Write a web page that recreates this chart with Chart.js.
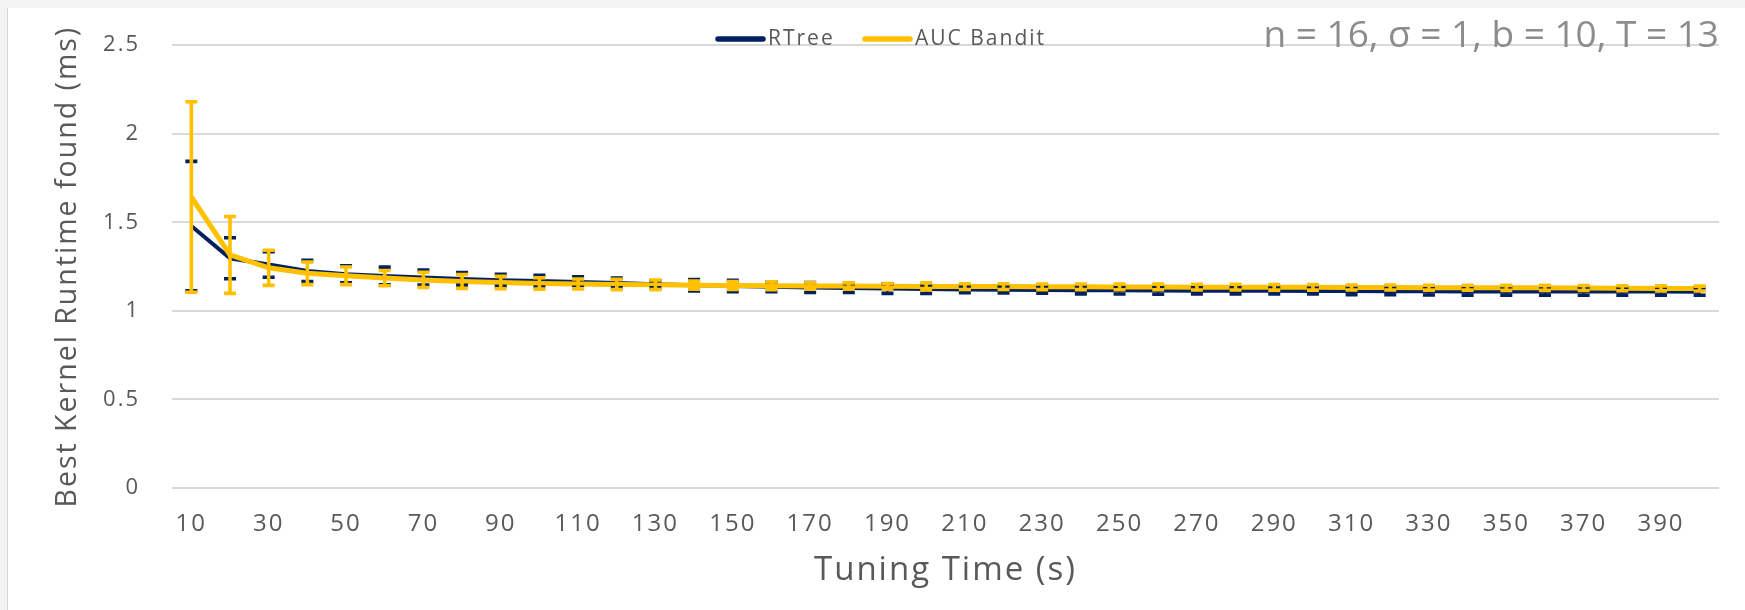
<!DOCTYPE html>
<html>
<head>
<meta charset="utf-8">
<script src="https://cdn.jsdelivr.net/npm/chart.js@4.4.1/dist/chart.umd.min.js"></script>
<style>
html,body{margin:0;padding:0;background:#f3f3f3;overflow:hidden;}
canvas{position:absolute;left:0;top:0;}
</style>
</head>
<body>
<canvas id="c" width="1745" height="610"></canvas>
<script>
// ---- data ----
const categories = ['10','20','30','40','50','60','70','80','90','100',
  '110','120','130','140','150','160','170','180','190','200',
  '210','220','230','240','250','260','270','280','290','300',
  '310','320','330','340','350','360','370','380','390','400'];
const seriesNames = ['RTree', 'AUC Bandit'];
const rtreeMean = [1.479,1.297,1.262,1.225,1.207,1.197,1.188,1.180,1.173,1.168,
  1.163,1.158,1.150,1.145,1.140,1.136,1.132,1.129,1.126,1.123,
  1.121,1.119,1.118,1.117,1.116,1.115,1.114,1.114,1.113,1.112,
  1.112,1.111,1.111,1.110,1.110,1.110,1.109,1.109,1.109,1.108];
const rtreeErr = [0.365,0.116,0.072,0.060,0.048,0.050,0.042,0.036,0.034,0.033,
  0.030,0.028,0.020,0.032,0.032,0.028,0.028,0.025,0.027,0.024,
  0.019,0.018,0.018,0.021,0.021,0.021,0.018,0.018,0.018,0.017,
  0.020,0.020,0.021,0.021,0.021,0.021,0.021,0.020,0.020,0.020];
const aucMean = [1.643,1.316,1.243,1.212,1.198,1.185,1.175,1.166,1.160,1.155,
  1.152,1.149,1.147,1.145,1.143,1.142,1.141,1.140,1.139,1.138,
  1.137,1.137,1.136,1.136,1.135,1.135,1.134,1.134,1.133,1.133,
  1.132,1.132,1.131,1.131,1.130,1.130,1.129,1.128,1.127,1.126];
const aucErr = [0.538,0.217,0.099,0.064,0.050,0.043,0.043,0.039,0.035,0.032,
  0.028,0.029,0.027,0.023,0.022,0.022,0.018,0.018,0.016,0.020,
  0.016,0.016,0.016,0.016,0.016,0.016,0.016,0.016,0.016,0.016,
  0.014,0.014,0.014,0.014,0.014,0.014,0.014,0.014,0.014,0.014];
const yTicks = [0, 0.5, 1, 1.5, 2, 2.5];
const yTickLabels = ['0', '0.5', '1', '1.5', '2', '2.5'];
const chartTitle = 'n = 16, \u03C3 = 1, b = 10, T = 13';
const xTitle = 'Tuning Time (s)';
const yTitle = 'Best Kernel Runtime found (ms)';

// ---- styling ----
const FONT = "'Open Sans', sans-serif";
const TEXT = '#595959';
const NAVY = '#002060';
const GOLD = '#FFC000';
const SPACING = '2px';
const legendStarts = [715, 862];
const errStyles = [
  {err: rtreeErr, color: NAVY, stem: 2, cap: 12, capW: 3.6},
  {err: aucErr, color: GOLD, stem: 3.6, cap: 12, capW: 3.6}
];

const background = {
  id: 'background',
  beforeDraw(chart) {
    const {ctx, width, height} = chart;
    ctx.save();
    ctx.fillStyle = '#f3f3f3';
    ctx.fillRect(0, 0, width, height);
    ctx.fillStyle = '#ffffff';
    ctx.fillRect(8, 8, width - 8, height - 8);
    ctx.strokeStyle = '#d6d6d6';
    ctx.lineWidth = 1;
    ctx.beginPath(); ctx.moveTo(7.5, 8); ctx.lineTo(7.5, height); ctx.stroke();
    ctx.restore();
    if ('letterSpacing' in ctx) ctx.letterSpacing = SPACING;
  },
  beforeDatasetsDraw(chart) {
    if ('letterSpacing' in chart.ctx) chart.ctx.letterSpacing = '0px';
  }
};

const errorBars = {
  id: 'errorBars',
  afterDatasetsDraw(chart) {
    const {ctx, scales: {x, y}} = chart;
    ctx.save();
    ctx.lineCap = 'butt';
    errStyles.forEach((s, di) => {
      const vals = chart.data.datasets[di].data;
      ctx.strokeStyle = s.color;
      vals.forEach((v, i) => {
        const px = x.getPixelForValue(i);
        const top = y.getPixelForValue(v + s.err[i]);
        const bot = y.getPixelForValue(v - s.err[i]);
        ctx.lineWidth = s.stem;
        ctx.beginPath(); ctx.moveTo(px, top); ctx.lineTo(px, bot); ctx.stroke();
        ctx.lineWidth = s.capW;
        ctx.beginPath();
        ctx.moveTo(px - s.cap / 2, top); ctx.lineTo(px + s.cap / 2, top);
        ctx.moveTo(px - s.cap / 2, bot); ctx.lineTo(px + s.cap / 2, bot);
        ctx.stroke();
      });
    });
    ctx.restore();
  }
};

const legendAndTitle = {
  id: 'legendAndTitle',
  afterDraw(chart) {
    const {ctx} = chart;
    ctx.save();
    // legend
    if ('letterSpacing' in ctx) ctx.letterSpacing = SPACING;
    ctx.font = '21px ' + FONT;
    ctx.textBaseline = 'middle';
    ctx.textAlign = 'left';
    const ly = 39;
    chart.data.datasets.forEach((ds, i) => {
      const lx = legendStarts[i];
      ctx.strokeStyle = ds.borderColor;
      ctx.lineWidth = 5.5;
      ctx.lineCap = 'round';
      ctx.beginPath(); ctx.moveTo(lx + 3, ly); ctx.lineTo(lx + 48, ly); ctx.stroke();
      ctx.fillStyle = TEXT;
      ctx.fillText(ds.label, lx + 53, ly);
    });
    // title
    if ('letterSpacing' in ctx) ctx.letterSpacing = '0px';
    ctx.font = '37px ' + FONT;
    ctx.fillStyle = '#8c8c8c';
    ctx.textAlign = 'right';
    ctx.textBaseline = 'alphabetic';
    ctx.fillText(chartTitle, 1719, 47);
    ctx.restore();
  }
};

new Chart(document.getElementById('c'), {
  type: 'line',
  data: {
    labels: categories,
    datasets: [
      {label: seriesNames[0], data: rtreeMean, borderColor: NAVY, backgroundColor: NAVY,
       borderWidth: 4, pointRadius: 0, tension: 0, order: 1},
      {label: seriesNames[1], data: aucMean, borderColor: GOLD, backgroundColor: GOLD,
       borderWidth: 5, pointRadius: 0, tension: 0, order: 0}
    ]
  },
  options: {
    responsive: false,
    devicePixelRatio: 1,
    animation: false,
    events: [],
    layout: {padding: {top: 34, right: 26, bottom: 0, left: 0}},
    plugins: {legend: {display: false}, tooltip: {enabled: false}, title: {display: false}},
    scales: {
      x: {
        type: 'category',
        offset: true,
        grid: {display: false, drawTicks: false},
        border: {display: false},
        ticks: {
          autoSkip: false, maxRotation: 0, minRotation: 0,
          font: {family: FONT, size: 24}, color: TEXT, padding: 22,
          callback: (v, i) => (i % 2 === 0 ? categories[i] : '')
        },
        title: {display: true, text: xTitle, font: {family: FONT, size: 33}, color: TEXT,
                padding: {top: 0, bottom: 20}},
        afterFit: s => { s.height = 122; }
      },
      y: {
        min: 0, max: 2.5,
        afterBuildTicks: s => { s.ticks = yTicks.map(v => ({value: v})); },
        grid: {color: '#d9d9d9', lineWidth: 2, drawTicks: false},
        border: {display: false},
        ticks: {font: {family: FONT, size: 22}, color: TEXT, padding: 32,
                callback: (v, i) => yTickLabels[i]},
        title: {display: true, text: yTitle, font: {family: FONT, size: 28.5}, color: TEXT,
                padding: {top: 51, bottom: 0}},
        afterFit: s => { s.width = 172; }
      }
    }
  },
  plugins: [background, errorBars, legendAndTitle]
});
</script>
</body>
</html>
